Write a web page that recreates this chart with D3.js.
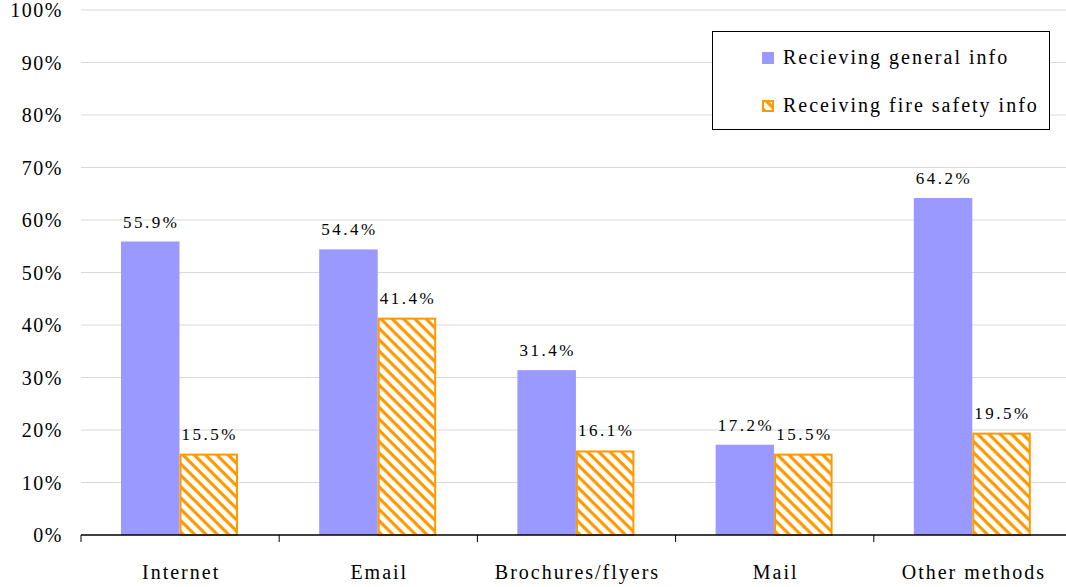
<!DOCTYPE html>
<html>
<head>
<meta charset="utf-8">
<script src="https://cdn.jsdelivr.net/npm/d3@7"></script>
<style>
  body { margin: 0; background: #fff; }
  text { font-family: "Liberation Serif", "DejaVu Serif", serif; fill: #000; }
</style>
</head>
<body>
<svg id="chart"></svg>
<script>
let categories = ["Internet", "Email", "Brochures/flyers", "Mail", "Other methods"]
let series_names = ["Recieving general info", "Receiving fire safety info"]
let general_vals = [55.9, 54.4, 31.4, 17.2, 64.2]
let fire_vals = [15.5, 41.4, 16.1, 15.5, 19.5]
let y_ticks = [0, 10, 20, 30, 40, 50, 60, 70, 80, 90, 100]

let W = 1066, H = 587
let m = {left: 81, right: 1072, top: 10, bottom: 535}

let svg = d3.select('#chart')
    .attr('width', W)
    .attr('height', H)

// hatch for the second series (stripes running top-left to bottom-right)
let defs = svg.append('defs')
let pat = defs.append('pattern')
    .attr('id', 'hatch')
    .attr('patternUnits', 'userSpaceOnUse')
    .attr('width', 8)
    .attr('height', 8)
    .attr('patternTransform', 'rotate(45)')
pat.append('rect').attr('width', 8).attr('height', 8).attr('fill', '#fff')
pat.append('rect').attr('x', 0).attr('y', 0).attr('width', 8).attr('height', 3.2).attr('fill', '#FF9900')

let x0 = d3.scaleBand()
    .domain(categories)
    .range([m.left, m.right])

let x1 = d3.scaleBand()
    .domain([0, 1])
    .range([40, 157])

let y = d3.scaleLinear()
    .domain([0, 100])
    .range([m.bottom, m.top])

// gridlines
svg.append('g')
    .selectAll('line')
    .data(y_ticks.filter(d => d > 0))
    .enter()
    .append('line')
    .attr('x1', m.left)
    .attr('x2', m.right)
    .attr('y1', d => y(d))
    .attr('y2', d => y(d))
    .attr('stroke', '#d9d9d9')
    .attr('stroke-width', 1)

// y labels
svg.append('g')
    .selectAll('text')
    .data(y_ticks)
    .enter()
    .append('text')
    .attr('x', 63)
    .attr('y', d => y(d) + 7)
    .attr('text-anchor', 'end')
    .style('font-size', '20px')
    .style('letter-spacing', '1.5px')
    .text(d => d + '%')

let rows = categories.map((c, i) => ({cat: c, vals: [general_vals[i], fire_vals[i]]}))

let groups = svg.append('g')
    .selectAll('g')
    .data(rows)
    .enter()
    .append('g')
    .attr('transform', d => 'translate(' + x0(d.cat) + ',0)')

groups.selectAll('rect')
    .data(d => d.vals.map((v, j) => ({v: v, j: j})))
    .enter()
    .append('rect')
    .attr('x', d => x1(d.j) + (d.j == 1 ? 1 : 0))
    .attr('y', d => y(d.v) + (d.j == 1 ? 1 : 0))
    .attr('width', d => x1.bandwidth() - (d.j == 1 ? 2 : 0))
    .attr('height', d => m.bottom - y(d.v) - (d.j == 1 ? 1 : 0))
    .attr('fill', d => d.j == 0 ? '#9999FF' : 'url(#hatch)')
    .attr('stroke', d => d.j == 0 ? 'none' : '#FF9900')
    .attr('stroke-width', 2)

groups.selectAll('text.val')
    .data(d => d.vals.map((v, j) => ({v: v, j: j})))
    .enter()
    .append('text')
    .attr('class', 'val')
    .attr('x', d => x1(d.j) + x1.bandwidth() / 2 + 1)
    .attr('y', d => y(d.v) - 14)
    .attr('text-anchor', 'middle')
    .style('font-size', '17px')
    .style('letter-spacing', '2.5px')
    .text(d => d.v.toFixed(1) + '%')

// x axis
svg.append('line')
    .attr('x1', m.left)
    .attr('x2', m.right)
    .attr('y1', m.bottom)
    .attr('y2', m.bottom)
    .attr('stroke', '#000')
    .attr('stroke-width', 1.5)

let boundaries = categories.map(c => x0(c)).concat([m.right])
svg.append('g')
    .selectAll('line')
    .data(boundaries)
    .enter()
    .append('line')
    .attr('x1', d => d)
    .attr('x2', d => d)
    .attr('y1', m.bottom)
    .attr('y2', m.bottom + 7)
    .attr('stroke', '#000')
    .attr('stroke-width', 1)

svg.append('g')
    .selectAll('text')
    .data(categories)
    .enter()
    .append('text')
    .attr('x', d => x0(d) + x0.bandwidth() / 2 + 1)
    .attr('y', 579)
    .attr('text-anchor', 'middle')
    .style('font-size', '20px')
    .style('letter-spacing', '2px')
    .text(d => d)

// legend
let lg = svg.append('g')
lg.append('rect')
    .attr('x', 712.5)
    .attr('y', 31.5)
    .attr('width', 337)
    .attr('height', 98)
    .attr('fill', '#fff')
    .attr('stroke', '#000')
    .attr('stroke-width', 1)

series_names.forEach(function(name, i){
    let yy = 58 + i * 48
    lg.append('rect')
        .attr('x', 762 + (i == 1 ? 1 : 0))
        .attr('y', yy - 6 + (i == 1 ? 1 : 0))
        .attr('width', 12 - (i == 1 ? 2 : 0))
        .attr('height', 12 - (i == 1 ? 2 : 0))
        .attr('fill', i == 0 ? '#9999FF' : 'url(#hatch)')
        .attr('stroke', i == 0 ? 'none' : '#FF9900')
        .attr('stroke-width', 2)
    lg.append('text')
        .attr('x', 783)
        .attr('y', yy + 6)
        .style('font-size', '20px')
        .style('letter-spacing', '2px')
        .text(name)
})
</script>
</body>
</html>
